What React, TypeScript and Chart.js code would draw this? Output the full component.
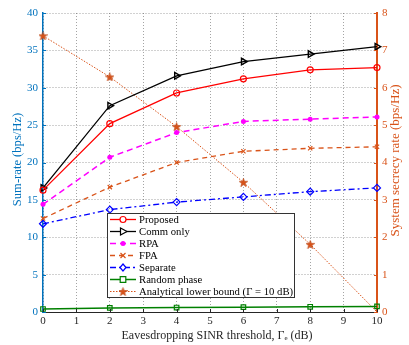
import { useEffect, useRef } from "react";
import { Chart, registerables } from "chart.js";

Chart.register(...registerables);

// Eavesdropping SINR threshold (dB)
const thresholds = [0, 2, 4, 6, 8, 10];

// Sum-rate (bps/Hz), left axis
const proposed = [16.3, 25.2, 29.3, 31.2, 32.4, 32.7];
const commOnly = [16.6, 27.6, 31.6, 33.5, 34.5, 35.5];
const rpa = [14.4, 20.7, 24.0, 25.5, 25.8, 26.1];
const fpa = [12.5, 16.7, 20.0, 21.5, 21.9, 22.1];
const separate = [11.8, 13.7, 14.7, 15.4, 16.1, 16.6];
const randomPhase = [0.4, 0.55, 0.6, 0.65, 0.7, 0.75];

// System secrecy rate (bps/Hz), right axis
const secrecyBound = [7.39, 6.29, 4.96, 3.47, 1.81, 0];

const seriesNames = [
  "Proposed",
  "Comm only",
  "RPA",
  "FPA",
  "Separate",
  "Random phase",
  "Analytical lower bound (\u0393 = 10 dB)",
];

const xTitle = "Eavesdropping SINR threshold, \u0393\u2091 (dB)";
const yLeftTitle = "Sum-rate (bps/Hz)";
const yRightTitle = "System secrecy rate (bps/Hz)";

const BLUE_AX = "#0072BD";
const ORANGE = "#D95319";
const FONT = "'Liberation Serif', 'DejaVu Serif', serif";

const toPoints = (ys: number[]) => thresholds.map((x, i) => ({ x, y: ys[i] }));

function makeStar(size: number, color: string) {
  const c = document.createElement("canvas");
  c.width = size;
  c.height = size;
  const g = c.getContext("2d")!;
  const cx = size / 2;
  const cy = size / 2 + 0.5;
  const R = size / 2;
  const r = R * 0.4;
  g.beginPath();
  for (let i = 0; i < 10; i++) {
    const a = -Math.PI / 2 + (i * Math.PI) / 5;
    const rad = i % 2 ? r : R;
    g.lineTo(cx + rad * Math.cos(a), cy + rad * Math.sin(a));
  }
  g.closePath();
  g.fillStyle = color;
  g.fill();
  g.strokeStyle = "#B8420F";
  g.lineWidth = 0.6;
  g.stroke();
  return c;
}

type Marker = "circle" | "triR" | "dot" | "cross" | "diamond" | "square" | "star";

function drawMarker(
  ctx: CanvasRenderingContext2D,
  kind: Marker,
  x: number,
  y: number,
  color: string,
  star: HTMLCanvasElement
) {
  ctx.save();
  ctx.strokeStyle = color;
  ctx.fillStyle = color;
  ctx.setLineDash([]);
  ctx.lineWidth = 1.2;
  ctx.beginPath();
  if (kind === "circle") {
    ctx.arc(x, y, 3, 0, Math.PI * 2);
    ctx.fillStyle = "#fff";
    ctx.fill();
    ctx.stroke();
  } else if (kind === "triR") {
    ctx.moveTo(x + 4, y);
    ctx.lineTo(x - 2.5, y - 3.5);
    ctx.lineTo(x - 2.5, y + 3.5);
    ctx.closePath();
    ctx.fillStyle = "#fff";
    ctx.fill();
    ctx.stroke();
  } else if (kind === "dot") {
    ctx.arc(x, y, 2.5, 0, Math.PI * 2);
    ctx.fill();
  } else if (kind === "cross") {
    ctx.moveTo(x - 2.5, y - 2.5);
    ctx.lineTo(x + 2.5, y + 2.5);
    ctx.moveTo(x + 2.5, y - 2.5);
    ctx.lineTo(x - 2.5, y + 2.5);
    ctx.stroke();
  } else if (kind === "diamond") {
    ctx.moveTo(x, y - 3.5);
    ctx.lineTo(x + 3, y);
    ctx.lineTo(x, y + 3.5);
    ctx.lineTo(x - 3, y);
    ctx.closePath();
    ctx.fillStyle = "#fff";
    ctx.fill();
    ctx.stroke();
  } else if (kind === "square") {
    ctx.rect(x - 2.8, y - 2.8, 5.6, 5.6);
    ctx.fillStyle = "#fff";
    ctx.fill();
    ctx.stroke();
  } else if (kind === "star") {
    ctx.drawImage(star, x - star.width / 2, y - star.height / 2);
  }
  ctx.restore();
}

export default function App() {
  const canvasRef = useRef<HTMLCanvasElement | null>(null);

  useEffect(() => {
    const canvas = canvasRef.current;
    if (!canvas) return;
    const star = makeStar(9, ORANGE);

    const legendStyles: { color: string; dash: number[]; width: number; marker: Marker }[] = [
      { color: "#FF0000", dash: [], width: 1.3, marker: "circle" },
      { color: "#000000", dash: [], width: 1.3, marker: "triR" },
      { color: "#FF00FF", dash: [6, 4], width: 1.5, marker: "dot" },
      { color: ORANGE, dash: [5, 4], width: 1.3, marker: "cross" },
      { color: "#0000FF", dash: [6, 3, 2, 3], width: 1.3, marker: "diamond" },
      { color: "#008000", dash: [], width: 1.5, marker: "square" },
      { color: ORANGE, dash: [1.5, 1.5], width: 1, marker: "star" },
    ];

    const overlay = {
      id: "overlay",
      afterDatasetsDraw(chart: any) {
        const ctx: CanvasRenderingContext2D = chart.ctx;
        const area = chart.chartArea;
        const xs = chart.scales.x;
        const yl = chart.scales.y;
        const yr = chart.scales.y2;

        // inward tick marks
        ctx.save();
        ctx.lineWidth = 1;
        ctx.strokeStyle = BLUE_AX;
        for (let v = 0; v <= 40; v += 5) {
          const py = Math.round(yl.getPixelForValue(v)) + 0.5;
          ctx.beginPath();
          ctx.moveTo(area.left, py);
          ctx.lineTo(area.left + 3, py);
          ctx.stroke();
        }
        ctx.strokeStyle = ORANGE;
        for (let v = 0; v <= 8; v += 1) {
          const py = Math.round(yr.getPixelForValue(v)) + 0.5;
          ctx.beginPath();
          ctx.moveTo(area.right, py);
          ctx.lineTo(area.right - 3, py);
          ctx.stroke();
        }
        ctx.strokeStyle = "#262626";
        for (let v = 0; v <= 10; v += 1) {
          const px = Math.round(xs.getPixelForValue(v)) + 0.5;
          ctx.beginPath();
          ctx.moveTo(px, area.bottom);
          ctx.lineTo(px, area.bottom - 3);
          ctx.stroke();
        }
        ctx.restore();

        // legend box
        const bx = 107;
        const by = 213;
        const bw = 187;
        const bh = 84;
        ctx.save();
        ctx.fillStyle = "#ffffff";
        ctx.fillRect(bx, by, bw, bh);
        ctx.strokeStyle = "#333333";
        ctx.lineWidth = 1;
        ctx.strokeRect(bx + 0.5, by + 0.5, bw, bh);
        ctx.font = `10.7px ${FONT}`;
        ctx.textBaseline = "middle";
        ctx.textAlign = "left";
        legendStyles.forEach((s, i) => {
          const ry = by + 6.5 + i * 12;
          ctx.save();
          ctx.strokeStyle = s.color;
          ctx.lineWidth = s.width;
          ctx.setLineDash(s.dash);
          ctx.beginPath();
          ctx.moveTo(110, ry);
          ctx.lineTo(136, ry);
          ctx.stroke();
          ctx.restore();
          drawMarker(ctx, s.marker, 123, ry, s.color, star);
          ctx.fillStyle = "#000";
          ctx.fillText(seriesNames[i], 139, ry + 0.5);
        });
        ctx.restore();

        // axis titles
        ctx.save();
        ctx.textAlign = "center";
        ctx.textBaseline = "middle";
        ctx.font = `12px ${FONT}`;
        ctx.fillStyle = "#262626";
        ctx.fillText(xTitle, 217, 336);

        const midY = (area.top + area.bottom) / 2;
        ctx.save();
        ctx.translate(18, midY - 3);
        ctx.rotate(-Math.PI / 2);
        ctx.font = `12.6px ${FONT}`;
        ctx.fillStyle = BLUE_AX;
        ctx.fillText(yLeftTitle, 0, 0);
        ctx.restore();

        ctx.save();
        ctx.translate(396, midY - 2);
        ctx.rotate(-Math.PI / 2);
        ctx.font = `13px ${FONT}`;
        ctx.fillStyle = ORANGE;
        ctx.fillText(yRightTitle, 0, 0);
        ctx.restore();
        ctx.restore();
      },
    };

    const chart = new Chart(canvas, {
      type: "line",
      data: {
        datasets: [
          {
            label: seriesNames[0],
            data: toPoints(proposed),
            yAxisID: "y",
            borderColor: "#FF0000",
            borderWidth: 1.3,
            pointStyle: "circle",
            pointRadius: 3,
            pointBorderWidth: 1.2,
            pointBackgroundColor: "rgba(255,255,255,0)",
            pointBorderColor: "#FF0000",
          },
          {
            label: seriesNames[1],
            data: toPoints(commOnly),
            yAxisID: "y",
            borderColor: "#000000",
            borderWidth: 1.3,
            pointStyle: "triangle",
            pointRotation: 90,
            pointRadius: 3.8,
            pointBorderWidth: 1.4,
            pointBackgroundColor: "rgba(255,255,255,0)",
            pointBorderColor: "#000000",
          },
          {
            label: seriesNames[2],
            data: toPoints(rpa),
            yAxisID: "y",
            borderColor: "#FF00FF",
            borderWidth: 1.5,
            borderDash: [6, 4],
            pointStyle: "circle",
            pointRadius: 2.5,
            pointBorderWidth: 0,
            pointBackgroundColor: "#FF00FF",
            pointBorderColor: "#FF00FF",
          },
          {
            label: seriesNames[3],
            data: toPoints(fpa),
            yAxisID: "y",
            borderColor: ORANGE,
            borderWidth: 1.3,
            borderDash: [5, 4],
            pointStyle: "crossRot",
            pointRadius: 3,
            pointBorderWidth: 1.2,
            pointBorderColor: ORANGE,
          },
          {
            label: seriesNames[4],
            data: toPoints(separate),
            yAxisID: "y",
            borderColor: "#0000FF",
            borderWidth: 1.3,
            borderDash: [6, 3, 2, 3],
            pointStyle: "rectRot",
            pointRadius: 3.5,
            pointBorderWidth: 1.2,
            pointBackgroundColor: "rgba(255,255,255,0)",
            pointBorderColor: "#0000FF",
          },
          {
            label: seriesNames[5],
            data: toPoints(randomPhase),
            yAxisID: "y",
            borderColor: "#008000",
            borderWidth: 1.5,
            pointStyle: "rect",
            pointRadius: 3.2,
            pointBorderWidth: 1.2,
            pointBackgroundColor: "rgba(255,255,255,0)",
            pointBorderColor: "#008000",
          },
          {
            label: seriesNames[6],
            data: toPoints(secrecyBound),
            yAxisID: "y2",
            borderColor: ORANGE,
            borderWidth: 1,
            borderDash: [1.5, 1.5],
            pointStyle: star,
            pointRadius: thresholds.map((x) => (x < 10 ? 5 : 0)),
          },
        ].map((d: any) => ({ ...d, tension: 0, fill: false, clip: false })),
      },
      options: {
        animation: false,
        responsive: false,
        maintainAspectRatio: false,
        layout: { padding: { top: 13, left: 0, right: 0, bottom: 0 } },
        plugins: {
          legend: { display: false },
          tooltip: { enabled: false },
        },
        scales: {
          x: {
            type: "linear",
            min: 0,
            max: 10,
            ticks: {
              stepSize: 1,
              color: "#262626",
              font: { family: FONT, size: 11 },
              padding: 3,
              maxRotation: 0,
            },
            grid: { color: "rgba(90,90,90,0.55)", lineWidth: 1, drawTicks: false },
            border: { display: true, color: "#262626", width: 1, dash: [1, 2] },
            afterFit: (s: any) => {
              s.height = 33;
            },
          },
          y: {
            position: "left",
            min: 0,
            max: 40,
            ticks: {
              stepSize: 5,
              color: BLUE_AX,
              font: { family: FONT, size: 11 },
              padding: 5,
            },
            grid: { color: "rgba(90,90,90,0.55)", lineWidth: 1, drawTicks: false },
            border: { display: true, color: BLUE_AX, width: 1.5, dash: [1, 2] },
            afterFit: (s: any) => {
              s.width = 43;
            },
          },
          y2: {
            position: "right",
            min: 0,
            max: 8,
            ticks: {
              stepSize: 1,
              color: ORANGE,
              font: { family: FONT, size: 11 },
              padding: 5,
            },
            grid: { display: false, drawTicks: false },
            border: { display: true, color: ORANGE, width: 2 },
            afterFit: (s: any) => {
              s.width = 32;
            },
          },
        },
      },
      plugins: [overlay],
    } as any);

    return () => chart.destroy();
  }, []);

  return (
    <div style={{ position: "fixed", left: 0, top: 0, width: 409, height: 345, background: "#fff" }}>
      <canvas ref={canvasRef} width={409} height={345} style={{ width: 409, height: 345, display: "block" }} />
    </div>
  );
}
